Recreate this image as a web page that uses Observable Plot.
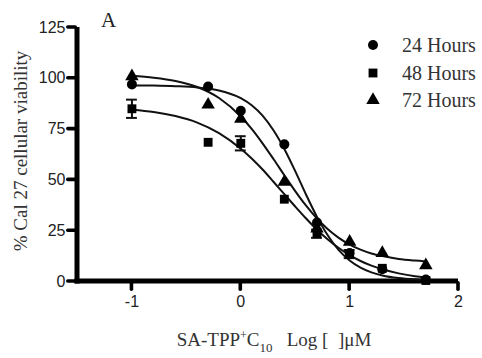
<!DOCTYPE html>
<html>
<head>
<meta charset="utf-8">
<script src="https://cdn.jsdelivr.net/npm/d3@7"></script>
<script src="https://cdn.jsdelivr.net/npm/@observablehq/plot@0.6"></script>
<style>
  html, body { margin: 0; background: #fff; overflow: hidden; }
  #wrap { position: relative; width: 482px; height: 358px; background: #fff; overflow: hidden; }
  .serif { font-family: "Liberation Serif", "DejaVu Serif", serif; color: #222; position: absolute; white-space: nowrap; line-height: 1; }
</style>
</head>
<body>
<div id="wrap"></div>
<script>
// Measured data (log concentration, % viability)
const logConc = [-1, -0.3, 0, 0.4, 0.7, 1, 1.3, 1.7];
const h24 = [97, 96, 84, 67.5, 29, 14, 6, 1];
const h48 = [85, 68.5, 68, 40.5, 23.5, 13.5, 6.5, 0.5];
const h72 = [101, 87, 80, 49, 26, 19.5, 14, 8];
const err48 = [4.5, 0, 3.5, 0, 2, 2, 0, 0];

// Fitted curves
const curveX = [-1, -0.8, -0.6, -0.4, -0.2, 0, 0.1, 0.2, 0.3, 0.4, 0.5, 0.6, 0.7, 0.8, 0.9, 1.0, 1.1, 1.2, 1.3, 1.45, 1.6, 1.7];
const fit24 = [96.5, 96.4, 96.1, 95.5, 94.0, 90.2, 86.7, 81.6, 74.4, 65.2, 54.3, 42.7, 31.8, 22.6, 15.4, 10.3, 6.8, 4.5, 3.0, 1.7, 1.1, 0.9];
const fit48 = [84.5, 83.4, 81.4, 78.2, 73.0, 65.3, 60.5, 55.1, 49.1, 43.0, 36.9, 31.0, 25.5, 20.7, 16.5, 13.0, 10.1, 7.8, 6.0, 4.0, 2.6, 2.0];
const fit72 = [101.2, 100.3, 98.7, 95.7, 90.3, 81.2, 75.1, 68.0, 60.3, 52.3, 44.5, 37.3, 31.0, 25.7, 21.5, 18.2, 15.7, 13.8, 12.5, 11.1, 10.3, 9.9];

const seriesNames = ["24 Hours", "48 Hours", "72 Hours"];
const seriesSymbols = ["circle", "square", "triangle"];
const yTicks = [0, 25, 50, 75, 100, 125];
const xTicks = [-1, 0, 1, 2];
const xDomain = [-1.5, 2];
const yDomain = [0, 125];

const allValues = [h24, h48, h72];
const allFits = [fit24, fit48, fit72];

const points = [];
allValues.forEach((vals, s) => vals.forEach((v, i) => points.push({x: logConc[i], y: v, s: seriesNames[s]})));
const curves = [];
allFits.forEach((vals, s) => vals.forEach((v, i) => curves.push({x: curveX[i], y: v, s: seriesNames[s]})));
const errs = logConc.map((x, i) => ({x, y: h48[i], e: err48[i]})).filter(d => d.e > 0);
const capHalf = 0.05; // half-width of error-bar caps, in x units
const caps = errs.flatMap(d => [{x: d.x, y: d.y + d.e}, {x: d.x, y: d.y - d.e}]);

const R = 5;

const chart = Plot.plot({
  width: 482,
  height: 358,
  marginLeft: 77,
  marginRight: 24,
  marginTop: 27,
  marginBottom: 77,
  x: { domain: xDomain },
  y: { domain: yDomain },
  symbol: { domain: seriesNames, range: seriesSymbols },
  marks: [
    // heavy axis lines drawn as filled bars
    Plot.rect([0], { x1: xDomain[0], x2: xDomain[1], y1: yDomain[0], y2: yDomain[0], insetTop: -2.5, insetBottom: -2.5, insetLeft: -2.5, fill: "#000" }),
    Plot.rect([0], { x1: xDomain[0], x2: xDomain[0], y1: yDomain[0], y2: yDomain[1], insetLeft: -2.5, insetRight: -2.5, insetBottom: -2.5, fill: "#000" }),
    // heavy tick marks
    Plot.rect(yTicks, { y1: d => d, y2: d => d, x1: xDomain[0], x2: xDomain[0], insetTop: -1.8, insetBottom: -1.8, insetLeft: -11, rx: 1.8, fill: "#000" }),
    Plot.rect(xTicks, { x1: d => d, x2: d => d, y1: yDomain[0], y2: yDomain[0], insetLeft: -1.8, insetRight: -1.8, insetBottom: -10, rx: 1.8, fill: "#000" }),
    // tick labels
    Plot.axisY(yTicks, { tickSize: 0, tickPadding: 12, label: null, fontSize: 16, fill: "#222" }),
    Plot.axisX(xTicks, { tickSize: 0, tickPadding: 14, label: null, fontSize: 16, fill: "#222", tickFormat: d => String(d) }),
    Plot.line(curves, { x: "x", y: "y", z: "s", curve: "monotone-x", stroke: "#111", strokeWidth: 2 }),
    Plot.ruleX(errs, { x: "x", y1: d => d.y - d.e, y2: d => d.y + d.e, stroke: "#111", strokeWidth: 2 }),
    Plot.ruleY(caps, { y: "y", x1: d => d.x - capHalf, x2: d => d.x + capHalf, stroke: "#111", strokeWidth: 2 }),
    Plot.dot(points, { x: "x", y: "y", symbol: "s", r: R, fill: "#000", stroke: "none" })
  ]
});
d3.select(chart).attr("font-family", "Liberation Sans, Arial, sans-serif");

const wrap = document.getElementById("wrap");
wrap.appendChild(chart);

// Title "A"
const title = document.createElement("div");
title.className = "serif";
title.style.cssText = "left:101px; top:10px; font-size:21px;";
title.textContent = "A";
wrap.appendChild(title);

// Y label (rotated, centred on x=20, y=151)
const yl = document.createElement("div");
yl.className = "serif";
yl.style.cssText = "left:0px; top:0px; font-size:19px; color:#333; transform-origin: 0 0;";
yl.textContent = "% Cal 27 cellular viability";
wrap.appendChild(yl);
const ylW = yl.getBoundingClientRect().width, ylH = yl.getBoundingClientRect().height;
yl.style.transform = `translate(${20 - ylH / 2}px, ${151 + ylW / 2}px) rotate(-90deg)`;

// X label (centred on x=274)
const xl = document.createElement("div");
xl.className = "serif";
xl.style.cssText = "left:0px; top:329px; font-size:19px; color:#333;";
xl.innerHTML = 'SA-TPP<span style="font-size:12px; vertical-align:7px">+</span>C<span style="font-size:13px; vertical-align:-6px">10</span>&nbsp;&nbsp; Log [&nbsp; ]μM';
wrap.appendChild(xl);
xl.style.left = (274 - xl.getBoundingClientRect().width / 2) + "px";

// Legend (small symbol + label per row)
const symMap = { circle: d3.symbolCircle, square: d3.symbolSquare, triangle: d3.symbolTriangle };
seriesNames.forEach((name, i) => {
  const cy = 45 + i * 27.5;
  const sym = document.createElementNS("http://www.w3.org/2000/svg", "svg");
  sym.setAttribute("width", 16); sym.setAttribute("height", 16);
  sym.style.cssText = `position:absolute; left:365px; top:${cy - 8}px;`;
  const p = document.createElementNS("http://www.w3.org/2000/svg", "path");
  p.setAttribute("transform", "translate(8,8)");
  p.setAttribute("d", d3.symbol(symMap[seriesSymbols[i]], Math.PI * R * R)());
  p.setAttribute("fill", "#000");
  sym.appendChild(p);
  wrap.appendChild(sym);
  const t = document.createElement("div");
  t.className = "serif";
  t.style.cssText = `left:402px; top:${cy + 7 - 0.8375 * 20}px; font-size:20px; color:#333;`;
  t.textContent = name;
  wrap.appendChild(t);
});
</script>
</body>
</html>
